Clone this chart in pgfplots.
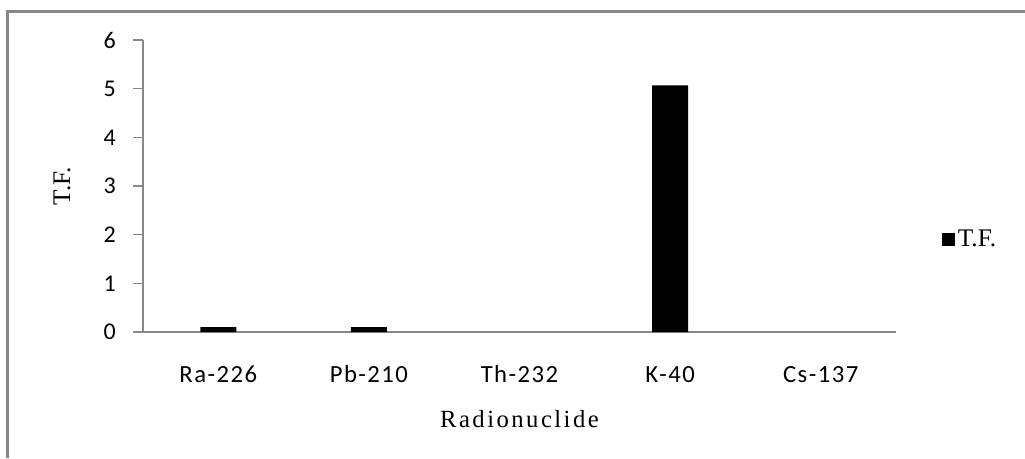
\documentclass[border=0pt]{standalone}
\usepackage{pgfplots}
\pgfplotsset{compat=1.18}
\usepackage{fontspec}
\setmainfont{Liberation Serif}
\newfontfamily\calib{Carlito}[LetterSpace=6.0]
\newfontfamily\serifsp{Liberation Serif}[LetterSpace=10.0]
\definecolor{linegray}{HTML}{878787}

\pgfplotstableread{
x  tf
0  0.10
1  0.10
2  0.00
3  5.07
4  0.00
}\tfdata

\begin{document}
\begin{tikzpicture}
  \useasboundingbox (0,0) rectangle (768.75pt,343.5pt);
  % outer frame (only top and left edges are visible)
  \draw[linegray, line width=2.25pt] (5.25pt,0pt) -- (5.25pt,334.5pt) -- (768.75pt,334.5pt);
  \begin{axis}[
      scale only axis,
      width=564.75pt,
      height=219pt,
      at={(107.25pt,94.5pt)},
      anchor=south west,
      xmin=-0.5, xmax=4.5,
      ymin=0, ymax=6,
      ytick={0,1,2,3,4,5,6},
      xtick={0,1,2,3,4},
      xticklabels={Ra-226, Pb-210, Th-232, K-40, Cs-137},
      axis x line*=bottom,
      axis y line*=left,
      axis line style={linegray, line width=1.5pt},
      tick align=outside,
      major tick length=7.5pt,
      xtick style={draw=none},
      ytick style={linegray, line width=1.2pt},
      /pgf/number format/assume math mode=true,
      yticklabel style={font=\calib\fontsize{18}{21}\selectfont, inner sep=0pt, xshift=-12.75pt},
      xticklabel style={font=\calib\fontsize{18.5}{21}\selectfont, inner sep=0pt, anchor=base, yshift=-30pt},
      ylabel={T.F.},
      xlabel={Radionuclide},
      every axis y label/.style={at={(axis description cs:0,0.5)}, xshift=-60.75pt,
        rotate=90, anchor=center, font=\fontsize{19}{22}\selectfont},
      every axis x label/.style={at={(axis description cs:0.5,0)}, yshift=-71.25pt,
        anchor=base, font=\serifsp\fontsize{18.5}{22}\selectfont},
      legend style={at={(axis description cs:1.061,0.318)}, anchor=west, draw=none, fill=none,
        inner sep=0pt, font=\fontsize{19}{22}\selectfont},
      legend image code/.code={\fill[black] (0pt,-4.875pt) rectangle (9.75pt,4.875pt);},
    ]
    % zero values draw no bar, as in the reference
    \addplot[ybar, bar width=27pt, fill=black, draw=none, restrict y to domain=0.001:10]
      table[x=x, y=tf] {\tfdata};
    \addlegendentry{T.F.}
  \end{axis}
\end{tikzpicture}
\end{document}
